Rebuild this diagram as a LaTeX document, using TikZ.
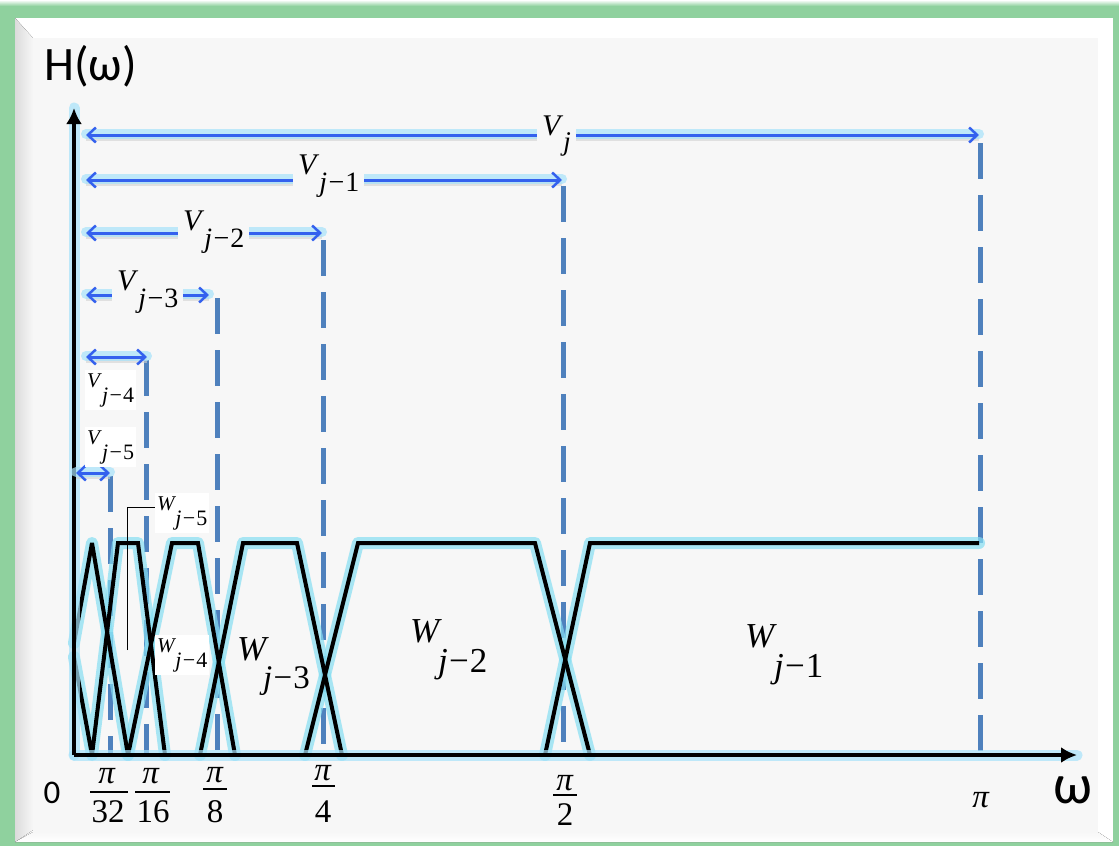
\documentclass[tikz,border=0pt]{standalone}
\usepackage{fontspec}
\setmainfont{Liberation Serif}
\newfontfamily\carl{Carlito}
\usetikzlibrary{arrows.meta}
\definecolor{frameg}{HTML}{8FD19E}
\definecolor{panel}{HTML}{F7F7F7}
\definecolor{dashc}{HTML}{4F81BD}
\definecolor{arrc}{HTML}{3461EE}
\definecolor{glowc}{HTML}{86DEF2}
\definecolor{aglow}{HTML}{A6E2FA}
\newcommand\mylab[6]{{\fontsize{#1}{#1}\selectfont\textit{#4}}\kern#6\raisebox{-#3}{\fontsize{#2}{#2}\selectfont\textit{j}\ifx&#5&\else\kern1.5pt−\kern1pt#5\fi}}
\tikzset{
  curve/.style={line width=4pt, black, line join=miter, miter limit=2.5},
  cglow/.style={line width=12pt, glowc, opacity=0.7, line join=round, line cap=round},
  dline/.style={line width=5pt, dashc, dash pattern=on 36pt off 16pt},
  aglowline/.style={line width=10pt, aglow, opacity=0.7, line cap=round},
  ashadow/.style={line width=5pt, black!18, opacity=0.6},
  varrow/.style={line width=3pt, arrc, {Straight Barb[length=8pt,width=15pt,line width=2.5pt]}-{Straight Barb[length=8pt,width=15pt,line width=2.5pt]}},
  axisline/.style={line width=4.5pt, black, -{Latex[length=16pt,width=16pt]}},
  axglow/.style={line width=11pt, aglow, opacity=0.7, line cap=round},
  biglab/.style={anchor=base west, inner xsep=5pt, inner ysep=2pt, fill=panel},
  smalllab/.style={anchor=base west, inner xsep=2pt, inner ysep=3pt, fill=white},
  wlab/.style={anchor=base west, inner sep=0pt},
  tick/.style={anchor=base, inner sep=0pt, font=\fontsize{33}{33}\selectfont},
  fbar/.style={line width=1.3pt, black},
  callout/.style={line width=0.9pt, black}
}
\begin{document}
\begin{tikzpicture}[x=1pt,y=-1pt]
\useasboundingbox (0,0) rectangle (1119,846);
% frame
\fill[frameg] (0,3) rectangle (1119,846);
\fill[top color=white, bottom color=frameg] (0,0) rectangle (1119,6);
\fill[white] (15,18) rectangle (1113,842);
\fill[left color=black!14, right color=panel] (15,18) -- (33,38) -- (33,830) -- (15,842) -- cycle;
\fill[panel] (33,38) rectangle (1098,832);
\fill[top color=panel, bottom color=white] (33,832) -- (1098,832) -- (1113,842) -- (15,842) -- cycle;

% named points
\coordinate (o) at (74,755);
\coordinate (ytop) at (74,108);
\coordinate (xend) at (1077,755);
\coordinate (dpi) at (980,143);   \coordinate (bpi) at (980,755);
\coordinate (dp2) at (563,186);   \coordinate (bp2) at (563,755);
\coordinate (dp4) at (323,240);   \coordinate (bp4) at (323,755);
\coordinate (dp8) at (217,298);   \coordinate (bp8) at (217,755);
\coordinate (dp16) at (146,360);  \coordinate (bp16) at (146,755);
\coordinate (dp32) at (110,476);  \coordinate (bp32) at (110,755);

% dashed lines
\foreach \a/\b in {dpi/bpi, dp2/bp2, dp4/bp4, dp8/bp8, dp16/bp16, dp32/bp32}
  \draw[dline] (\a) -- (\b);

% curves: glow then black
\def\pa{(74,643) -- (92,543) -- (128,755)}
\def\pb{(74,657) -- (92,755) -- (118,543) -- (138,543) -- (165,755)}
\def\pc{(128,755) -- (172,543) -- (198,543) -- (235,755)}
\def\pd{(200,755) -- (243,543) -- (297,543) -- (342,755)}
\def\pe{(305,755) -- (358,543) -- (535,543) -- (590,755)}
\def\pf{(545,755) -- (590,543) -- (979,543)}
\foreach \p in {\pa,\pb,\pc,\pd,\pe,\pf} \draw[cglow] \p;
\foreach \p in {\pa,\pb,\pc,\pd,\pe,\pf} \draw[curve] \p;

% axes
\draw[axglow] (o) -- (ytop);
\draw[axglow] (o) -- (xend);
\draw[axisline] (o) -- (ytop);
\draw[axisline] (o) -- (xend);

% V arrows
\coordinate (v0l) at (86,135);  \coordinate (v0r) at (979,135);
\coordinate (v1l) at (86,180);  \coordinate (v1r) at (562,180);
\coordinate (v2l) at (86,233);  \coordinate (v2r) at (322,233);
\coordinate (v3l) at (86,295);  \coordinate (v3r) at (209,295);
\coordinate (v4l) at (86,357);  \coordinate (v4r) at (147,357);
\coordinate (v5l) at (76,473);  \coordinate (v5r) at (110,473);
\foreach \i in {0,...,5} {
  \draw[ashadow] ([yshift=-3pt]v\i l) -- ([yshift=-3pt]v\i r);
  \draw[aglowline] ([yshift=1pt]v\i l) -- ([yshift=1pt]v\i r);
}
\foreach \i in {0,...,5} \draw[varrow] (v\i l) -- (v\i r);

% V labels
\node[biglab] (lv0) at (537,135) {\mylab{30pt}{27pt}{15pt}{V}{}{0pt}};
\node[biglab] (lv1) at (293,174) {\mylab{30pt}{28pt}{17pt}{V}{1}{0pt}};
\node[biglab] (lv2) at (178,230) {\mylab{30pt}{28pt}{17pt}{V}{2}{0pt}};
\node[biglab] (lv3) at (112,290) {\mylab{30pt}{28pt}{17pt}{V}{3}{0pt}};
\node[smalllab] (lv4) at (85,387) {\mylab{21pt}{22pt}{15pt}{V}{4}{0pt}};
\node[smalllab] (lv5) at (85,444) {\mylab{21pt}{22pt}{15pt}{V}{5}{0pt}};

% W labels
\node[smalllab] (lw5) at (155,510) {\mylab{21pt}{22pt}{15pt}{W}{5}{-1pt}};
\node[smalllab] (lw4) at (155,652) {\mylab{21pt}{22pt}{15pt}{W}{4}{-1pt}};
\coordinate (cbot) at (127,650);
\coordinate (ccor) at (127,507);
\draw[callout] (cbot) -- (ccor) -- (lw5.west |- ccor);
\node[wlab] (lw3) at (237,660) {\mylab{35pt}{33pt}{28pt}{W}{3}{-6pt}};
\node[wlab] (lw2) at (410,642) {\mylab{35pt}{35pt}{30pt}{W}{2}{-4pt}};
\node[wlab] (lw1) at (745,647) {\mylab{35pt}{35pt}{30pt}{W}{1}{-3pt}};

% axis labels
\node[anchor=base west, inner sep=0pt, font=\carl\fontsize{48pt}{48pt}\selectfont] (hw) at (44,80) {H(ω)};
\node[anchor=base, inner sep=0pt, font=\carl\fontsize{56pt}{56pt}\selectfont] (om) at (1073,803) {ω};
\node[anchor=base, inner sep=0pt, font=\carl\fontsize{33pt}{33pt}\selectfont] (zero) at (52,803) {0};

% tick fractions
\node[tick] (n32) at (107,783) {\textit{π}};
\node[tick] (d32) at (108,822) {32};
\draw[fbar] (90,792) -- (128,792);
\node[tick] (n16) at (151,783) {\textit{π}};
\node[tick] (d16) at (153,822) {16};
\draw[fbar] (135,792) -- (170,792);
\node[tick] (n8) at (215,782) {\textit{π}};
\node[tick] (d8) at (215,822) {8};
\draw[fbar] (203,789) -- (227,789);
\node[tick] (n4) at (323,780) {\textit{π}};
\node[tick] (d4) at (323,822) {4};
\draw[fbar] (312,786) -- (335,786);
\node[tick] (n2) at (565,790) {\textit{π}};
\node[tick] (d2) at (565,825) {2};
\draw[fbar] (553,795) -- (577,795);
\node[tick] (npi) at (981,807) {\textit{π}};
\end{tikzpicture}
\end{document}
